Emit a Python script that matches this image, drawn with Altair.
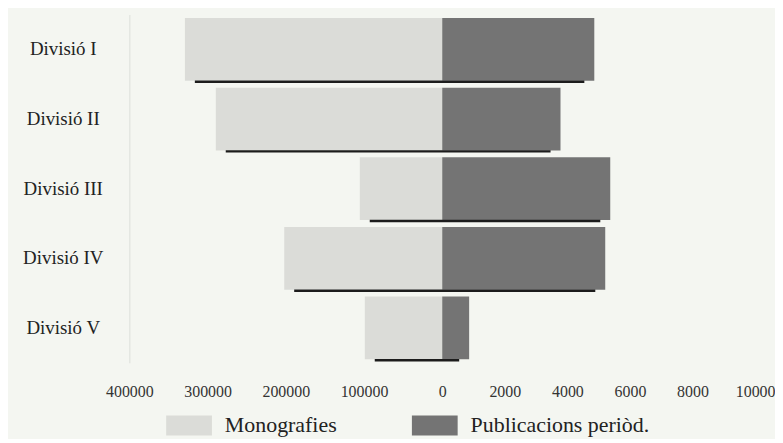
import altair as alt
import pandas as pd

# ---- data ----
divisions = ["Divisió I", "Divisió II", "Divisió III", "Divisió IV", "Divisió V"]
monografies = [329000, 289500, 105400, 202000, 99000]
publicacions = [4860, 3780, 5370, 5210, 860]
series_names = ["Monografies", "Publicacions periòd."]
series_colors = ["#dbdcd8", "#747474"]
mono_max = 400000
pub_max = 10000
tick_values = [-1, -0.75, -0.5, -0.25, 0, 0.2, 0.4, 0.6, 0.8, 1]

rows = []
for d, m, p in zip(divisions, monografies, publicacions):
    rows.append({"division": d, "series": series_names[0], "value": m,
                 "start": -m / mono_max, "end": 0.0})
    rows.append({"division": d, "series": series_names[1], "value": p,
                 "start": 0.0, "end": p / pub_max})
bars_df = pd.DataFrame(rows)

rule_df = pd.DataFrame({
    "division": divisions,
    "left": [-m / mono_max for m in monografies],
    "right": [p / pub_max for p in publicacions],
})

serif = "Liberation Serif"

y_enc = alt.Y("division:N", sort=divisions,
              scale=alt.Scale(paddingInner=0.1, paddingOuter=0.05),
              axis=alt.Axis(title=None, labelAlign="center", labelPadding=67,
                            ticks=False, labelFont=serif, labelFontSize=19,
                            labelColor="#222222", domain=True,
                            domainColor="#dcdfda", domainWidth=1))

x_scale = alt.Scale(domain=[-1, 1], nice=False, zero=False)

bars = alt.Chart(bars_df).mark_bar(strokeWidth=0).encode(
    x=alt.X("start:Q", scale=x_scale,
            axis=alt.Axis(title=None, values=tick_values, grid=False,
                          ticks=False, domain=False, labelFont=serif,
                          labelFontSize=16, labelColor="#333333",
                          labelPadding=21, labelFlush=False,
                          labelExpr="datum.value < 0 ? format(-datum.value*400000, 'd') : format(datum.value*10000, 'd')")),
    x2="end:Q",
    y=y_enc,
    color=alt.Color("series:N",
                    scale=alt.Scale(domain=series_names, range=series_colors),
                    legend=alt.Legend(title=None, orient="none", direction="horizontal",
                                      legendX=37, legendY=390,
                                      symbolType="M-1,-0.435H1V0.435H-1Z",
                                      symbolSize=2116, symbolStrokeWidth=0,
                                      symbolOpacity=1,
                                      labelFont=serif, labelFontSize=22,
                                      labelColor="#222222", labelOffset=13,
                                      columnPadding=75, padding=0,
                                      labelLimit=400)),
)

rules = alt.Chart(rule_df).mark_rule(color="#1c1c1c", strokeWidth=2.5,
                                     xOffset=10, x2Offset=-10, yOffset=1).encode(
    x=alt.X("left:Q", scale=x_scale),
    x2="right:Q",
    y=alt.Y("division:N", sort=divisions, bandPosition=1),
)

chart = alt.layer(bars, rules).properties(
    width=629, height=350,
    background="#f4f6f1",
    autosize=alt.AutoSizeParams(type="none"),
    padding={"left": 122, "top": 5.5, "right": 20, "bottom": 75},
).configure(font=serif).configure_view(stroke=None).configure_axis(
    labelFont=serif
).configure_legend(labelFont=serif)

chart.save("out.html", embed_options={"renderer": "svg", "actions": False})
